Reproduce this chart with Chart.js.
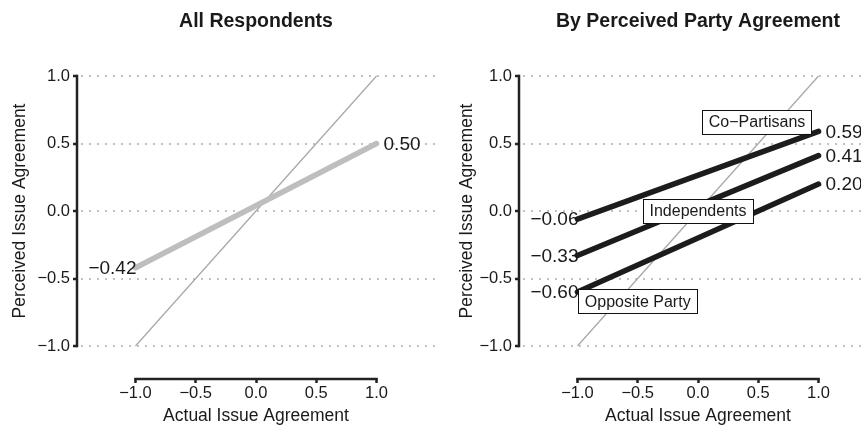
<!DOCTYPE html>
<html><head><meta charset="utf-8">
<script src="https://cdn.jsdelivr.net/npm/chart.js@4"></script>
<style>
html,body{margin:0;padding:0;background:#fff;overflow:hidden;width:861px;height:427px;}
#wrap{position:relative;width:861px;height:427px;overflow:hidden;background:#fff;}
canvas{position:absolute;top:0;}
#c1{left:0px;}
#c2{left:434px;}
</style></head><body>
<div id="wrap">
<canvas id="c1" width="435" height="427"></canvas>
<canvas id="c2" width="443" height="427"></canvas>
</div>
<script>
const FONT = "'Liberation Sans', Arial, Helvetica, sans-serif";

// ---- data ----
const actualAgreement = [-1, 1];
const allRespondents = [-0.42, 0.50];
const coPartisans = [-0.06, 0.59];
const independents = [-0.33, 0.41];
const oppositeParty = [-0.60, 0.20];
const equalityLine = [-1, 1];
const xTickValues = [-1, -0.5, 0, 0.5, 1];
const yTickValues = [-1, -0.5, 0, 0.5, 1];
const panelTitles = ['All Respondents', 'By Perceived Party Agreement'];
const groupNames = ['Co\u2212Partisans', 'Independents', 'Opposite Party'];
const xAxisTitle = 'Actual Issue Agreement';
const yAxisTitle = 'Perceived Issue Agreement';

const pts = ys => actualAgreement.map((x, i) => ({x: x, y: ys[i]}));
const signed = (v, d) => (v < 0 ? '\u2212' : '') + Math.abs(v).toFixed(d);

const decor = {
  id: 'decor',
  afterDatasetsDraw(chart, args, o) {
    const {ctx, chartArea, scales: {x, y}} = chart;
    ctx.save();
    // axis lines (base-R style, spanning the tick range only)
    ctx.strokeStyle = '#222';
    ctx.lineWidth = 2.5;
    ctx.lineCap = 'butt';
    ctx.beginPath();
    ctx.moveTo(chartArea.left, y.getPixelForValue(yTickValues[yTickValues.length - 1]) - 1.25);
    ctx.lineTo(chartArea.left, y.getPixelForValue(yTickValues[0]) + 1.25);
    ctx.moveTo(x.getPixelForValue(xTickValues[0]) - 1.25, chartArea.bottom);
    ctx.lineTo(x.getPixelForValue(xTickValues[xTickValues.length - 1]) + 1.25, chartArea.bottom);
    ctx.stroke();

    // panel title
    ctx.fillStyle = '#1a1a1a';
    ctx.font = 'bold 19.5px ' + FONT;
    ctx.textAlign = 'center';
    ctx.textBaseline = 'middle';
    ctx.fillText(o.title, x.getPixelForValue(0), 22);

    // y axis title, centred on the plotted range
    ctx.save();
    ctx.font = '17.5px ' + FONT;
    ctx.translate(o.yTitleX, y.getPixelForValue(0));
    ctx.rotate(-Math.PI / 2);
    ctx.fillText(yAxisTitle, 0, 0);
    ctx.restore();

    // end labels
    ctx.font = '19px ' + FONT;
    chart.data.datasets.forEach((ds, i) => {
      if (!ds.endLabels) return;
      const meta = chart.getDatasetMeta(i);
      const p0 = meta.data[0], p1 = meta.data[meta.data.length - 1];
      ctx.textAlign = 'right';
      ctx.fillText(signed(ds.data[0].y, 2), p0.x + 1, p0.y + 1);
      ctx.textAlign = 'left';
      ctx.fillText(signed(ds.data[ds.data.length - 1].y, 2), p1.x + 7, p1.y + 1);
    });

    // boxed group labels
    ctx.font = '16px ' + FONT;
    (o.boxes || []).forEach(b => {
      const cx = x.getPixelForValue(b.x), cy = y.getPixelForValue(b.y);
      const w = ctx.measureText(b.text).width + 13, h = 24;
      ctx.fillStyle = '#fff';
      ctx.fillRect(cx - w / 2, cy - h / 2, w, h);
      ctx.strokeStyle = '#111';
      ctx.lineWidth = 1;
      ctx.strokeRect(Math.round(cx - w / 2) + 0.5, Math.round(cy - h / 2) + 0.5, Math.round(w), h);
      ctx.fillStyle = '#1a1a1a';
      ctx.textAlign = 'center';
      ctx.fillText(b.text, cx, cy + 1);
    });
    ctx.restore();
  }
};

function makeChart(id, datasets, o) {
  return new Chart(document.getElementById(id), {
    type: 'scatter',
    data: {datasets: datasets},
    options: {
      responsive: false,
      animation: false,
      devicePixelRatio: 1,
      layout: {padding: {top: 76, left: 0, right: 0, bottom: 0}},
      plugins: {legend: {display: false}, tooltip: {enabled: false}, decor: o},
      scales: {
        x: {
          type: 'linear', min: -1.485, max: 1.485,
          afterBuildTicks: s => { s.ticks = xTickValues.map(v => ({value: v})); },
          afterFit: s => { s.height = 48; },
          grid: {display: true, drawOnChartArea: false, drawTicks: true, tickLength: 4, tickColor: '#222', tickWidth: 2.5},
          border: {display: false},
          ticks: {autoSkip: false, maxRotation: 0, padding: 1, color: '#1a1a1a',
                  font: {family: FONT, size: 16.5}, callback: v => signed(v, 1)},
          title: {display: true, text: xAxisTitle, color: '#1a1a1a',
                  font: {family: FONT, size: 17.5}, padding: {top: 0, bottom: 0}}
        },
        y: {
          type: 'linear', min: -1.2444, max: 1,
          afterBuildTicks: s => { s.ticks = yTickValues.map(v => ({value: v})); },
          afterFit: s => { s.width = o.yWidth; },
          grid: {display: true, drawOnChartArea: true, color: '#c2c2c2', lineWidth: 2,
                 drawTicks: true, tickLength: 4, tickColor: '#222', tickWidth: 2.5, tickBorderDash: []},
          border: {display: false, dash: [2, 6], dashOffset: -4},
          ticks: {padding: 3, color: '#1a1a1a', font: {family: FONT, size: 16.5}, callback: v => signed(v, 1)},
          title: {display: false}
        }
      }
    },
    plugins: [decor]
  });
}

const diag = () => ({data: pts(equalityLine), showLine: true, borderColor: '#a9a9a9', borderWidth: 1.3,
  pointRadius: 0, clip: false, order: 10});
const thick = (ys, color) => ({data: pts(ys), showLine: true, borderColor: color, borderWidth: 5.5,
  borderCapStyle: 'round', pointRadius: 0, clip: false, order: 0, endLabels: true});

makeChart('c1', [diag(), thick(allRespondents, '#bebebe')],
  {title: panelTitles[0], yWidth: 77, yTitleX: 20, boxes: []});

makeChart('c2', [diag(), thick(coPartisans, '#1c1c1c'), thick(independents, '#1c1c1c'), thick(oppositeParty, '#1c1c1c')],
  {title: panelTitles[1], yWidth: 85, yTitleX: 32.7,
   boxes: [
     {text: groupNames[0], x: 0.49, y: 0.66},
     {text: groupNames[1], x: 0.0, y: 0.0},
     {text: groupNames[2], x: -0.5, y: -0.67}
   ]});
</script>
</body></html>
